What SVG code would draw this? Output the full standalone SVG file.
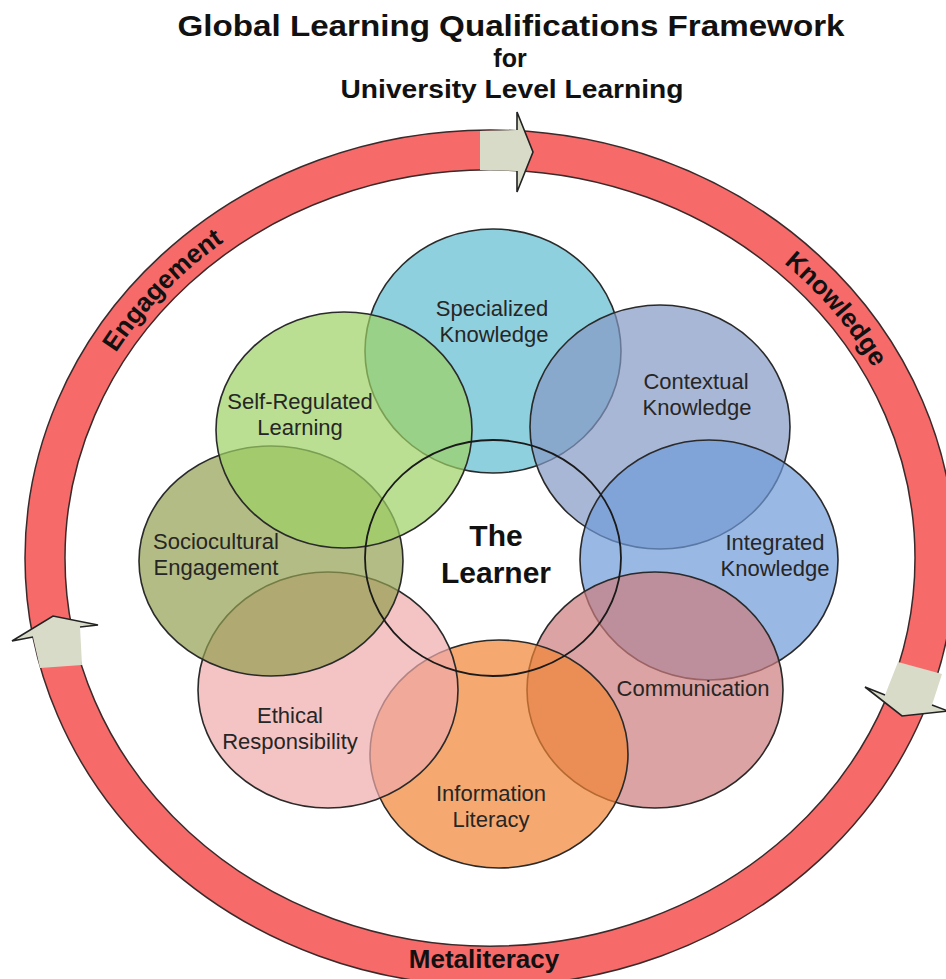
<svg xmlns="http://www.w3.org/2000/svg" width="946" height="979" viewBox="0 0 946 979">
<style>
.ttl{font-family:"Liberation Sans",Arial,sans-serif;font-weight:bold;fill:#111;text-anchor:middle}
.ring{font-family:"Liberation Sans",Arial,sans-serif;font-weight:bold;font-size:26px;fill:#111}
.lbl{font-family:"Liberation Sans",Arial,sans-serif;font-size:22px;fill:#262626;text-anchor:middle}
.ctr{font-family:"Liberation Sans",Arial,sans-serif;font-weight:bold;font-size:30px;fill:#111;text-anchor:middle}
.c{stroke:#2a2a2a;stroke-width:1.6;fill-opacity:0.7}
.arrow{fill:#d9dbc9;stroke:none}
.aedge{fill:none;stroke:#222;stroke-width:1.6;stroke-linejoin:miter}
</style>
<defs>
<path id="topArc" d="M54,558 A436,399 0 0 1 926,558"/>
</defs>
<rect width="946" height="979" fill="#ffffff"/>

<g id="title">
<text class="ttl" x="511" y="36" font-size="30" textLength="667" lengthAdjust="spacingAndGlyphs">Global Learning Qualifications Framework</text>
<text class="ttl" x="510" y="67" font-size="25">for</text>
<text class="ttl" x="512" y="98" font-size="26" textLength="343" lengthAdjust="spacingAndGlyphs">University Level Learning</text>
</g>

<g id="ring">
<path d="M25,558 A465,428 0 1 0 955,558 A465,428 0 1 0 25,558 Z M65,558 A425,388 0 1 1 915,558 A425,388 0 1 1 65,558 Z" fill="#f76a6a" fill-rule="evenodd" stroke="#3a2a2a" stroke-width="1.5"/>
<text class="ring"><textPath href="#topArc" startOffset="22.5%" text-anchor="middle">Engagement</textPath></text>
<text class="ring"><textPath href="#topArc" startOffset="79.5%" text-anchor="middle">Knowledge</textPath></text>
<text class="ring" x="484" y="968" text-anchor="middle">Metaliteracy</text>
</g>

<g id="connectors">
<g id="arrow-top">
<polygon class="arrow" points="480,131 517,130 517,112 533,152 517,192 517,171 480,170"/>
<polyline class="aedge" points="517,130 517,112 533,152 517,192 517,171"/>
</g>
<g id="arrow-left">
<polygon class="arrow" points="40,668 82,665 80,627 98,625 53,616 12,641 33,637"/>
<polyline class="aedge" points="80,627 98,625 53,616 12,641 33,637"/>
</g>
<g id="arrow-right">
<polygon class="arrow" points="898,662 942,674 932,705 948,711 902,716 865,687 885,695"/>
<polyline class="aedge" points="932,705 948,711 902,716 865,687 885,695"/>
</g>
</g>

<g id="specialized-knowledge">
<ellipse class="c" cx="493" cy="351" rx="128" ry="122" fill="#5fbcd0"/>
</g>
<g id="contextual-knowledge">
<ellipse class="c" cx="660" cy="427" rx="130" ry="122" fill="#8599c5"/>
</g>
<g id="integrated-knowledge">
<ellipse class="c" cx="709" cy="560" rx="129" ry="120" fill="#6f9ad9"/>
</g>
<g id="communication">
<ellipse class="c" cx="655" cy="690" rx="128" ry="118" fill="#cc7c7c"/>
</g>
<g id="information-literacy">
<ellipse class="c" cx="499" cy="754" rx="129" ry="114" fill="#f18533"/>
</g>
<g id="ethical-responsibility">
<ellipse class="c" cx="328" cy="690" rx="130" ry="118" fill="#f0abab"/>
</g>
<g id="sociocultural-engagement">
<ellipse class="c" cx="271" cy="561" rx="132" ry="115" fill="#939f50"/>
</g>
<g id="self-regulated-learning">
<ellipse class="c" cx="344" cy="430" rx="128" ry="118" fill="#9cd264"/>
</g>
<g id="the-learner">
<ellipse cx="493" cy="558" rx="128" ry="118" fill="none" stroke="#1a1a1a" stroke-width="1.8"/>
<text class="ctr" x="496" y="546">The</text>
<text class="ctr" x="496" y="583">Learner</text>
</g>

<g id="labels">
<text class="lbl" x="492" y="316">Specialized</text>
<text class="lbl" x="494" y="342">Knowledge</text>
<text class="lbl" x="696" y="389">Contextual</text>
<text class="lbl" x="697" y="415">Knowledge</text>
<text class="lbl" x="775" y="550">Integrated</text>
<text class="lbl" x="775" y="576">Knowledge</text>
<text class="lbl" x="693" y="696">Communication</text>
<text class="lbl" x="491" y="801">Information</text>
<text class="lbl" x="491" y="827">Literacy</text>
<text class="lbl" x="290" y="723">Ethical</text>
<text class="lbl" x="290" y="749">Responsibility</text>
<text class="lbl" x="216" y="549">Sociocultural</text>
<text class="lbl" x="216" y="575">Engagement</text>
<text class="lbl" x="300" y="409">Self-Regulated</text>
<text class="lbl" x="300" y="435">Learning</text>
</g>
</svg>
